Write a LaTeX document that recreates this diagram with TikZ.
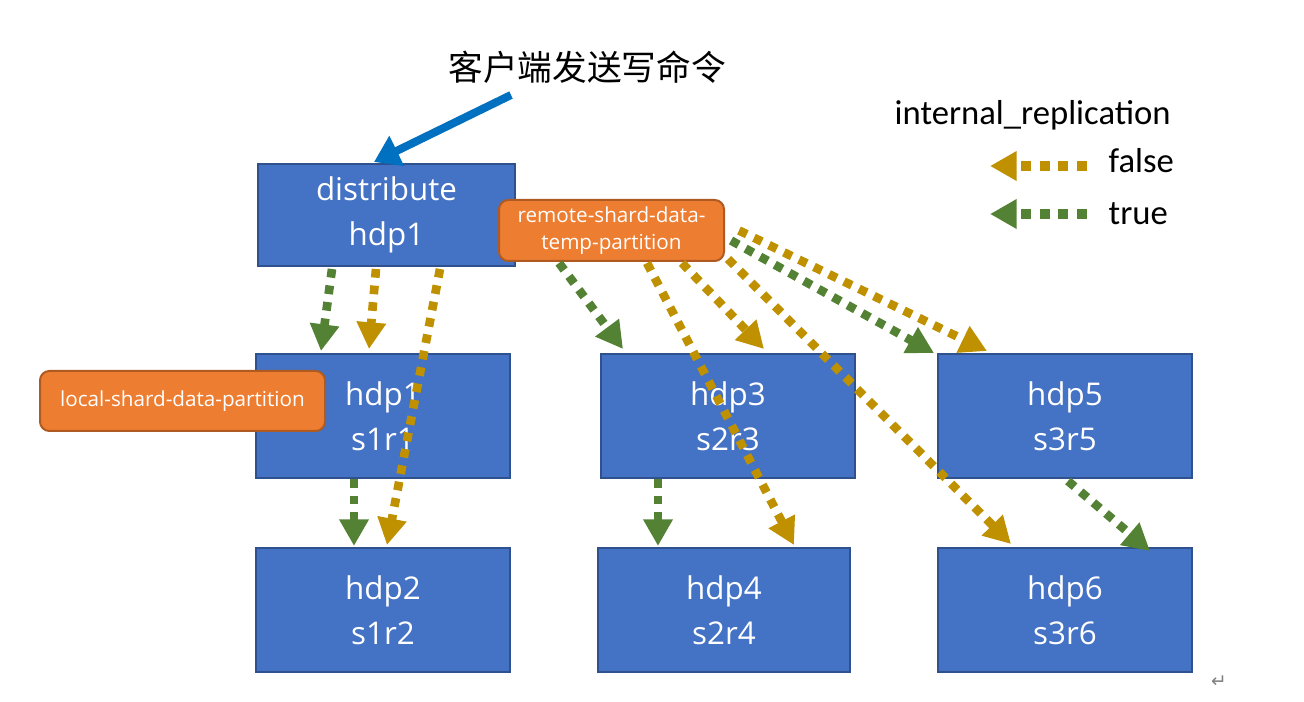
\documentclass[tikz,border=0pt]{standalone}
\usepackage{fontspec}
\setmainfont{Open Sans}
\newfontfamily\cjkf{Noto Sans CJK SC}
\newfontfamily\legf{Carlito}
\newfontfamily\symf{DejaVu Sans}
\usetikzlibrary{arrows.meta,calc}
\definecolor{boxblue}{HTML}{4472C4}
\definecolor{boxedge}{HTML}{2F528F}
\definecolor{orangefill}{HTML}{ED7D31}
\definecolor{orangeedge}{HTML}{AE5A21}
\definecolor{goldc}{HTML}{BF9000}
\definecolor{greenc}{HTML}{548235}
\definecolor{arrowblue}{HTML}{0070C0}
\tikzset{
  hostbox/.style={draw=boxedge, line width=1.5pt, fill=boxblue, text=white, align=center,
    minimum width=190.5pt, minimum height=93pt, inner sep=0pt,
    font=\fontsize{23.5}{34}\selectfont},
  tagbox/.style={draw=orangeedge, line width=1.5pt, fill=orangefill, text=white, align=center,
    rounded corners=7pt, inner sep=0pt, font=\fontsize{15.5}{20}\selectfont},
  dotline/.style={line width=6.5pt, dash pattern=on 6.5pt off 6pt,
    -{Triangle[width=21pt,length=20pt]}},
  goldline/.style={dotline, draw=goldc, color=goldc},
  greenline/.style={dotline, draw=greenc, color=greenc},
}
\begin{document}
\begin{tikzpicture}[x=0.75pt,y=-0.75pt]
\useasboundingbox (0,0) rectangle (1304,702);

% host boxes
\node[hostbox, minimum width=192.75pt, minimum height=76.5pt] (dist) at (386.5,215) {distribute\\hdp1};
\node[hostbox] (n1) at (383,416) {hdp1\\s1r1};
\node[hostbox] (n3) at (728,416) {hdp3\\s2r3};
\node[hostbox] (n5) at (1065,416) {hdp5\\s3r5};
\node[hostbox] (n2) at (383,610) {hdp2\\s1r2};
\node[hostbox, minimum width=189pt] (n4) at (724,610) {hdp4\\s2r4};
\node[hostbox] (n6) at (1065,610) {hdp6\\s3r6};

% orange tags
\node[tagbox, minimum width=168.75pt, minimum height=45.75pt] (remote) at (611.5,230.5) {remote-shard-data-\\temp-partition};
\node[tagbox, minimum width=213.75pt, minimum height=45pt] (local) at (182.5,401) {local-shard-data-partition};

% title and client arrow
\node[font=\cjkf\fontsize{26}{30}\selectfont] (title) at (587,67) {客户端发送写命令};
\coordinate (client) at (511,95);
\draw[arrowblue, line width=6pt, -{Triangle[width=24pt,length=19pt]}] (client) -- ($(dist.north west)+(117,-1)$);

% connectors from distribute
\draw[greenline] ($(dist.south west)+(75,2)$) -- ($(n1.north west)+(66,-2)$);
\draw[goldline] ($(dist.south west)+(119,2)$) -- ($(n1.north west)+(114,-4)$);
\draw[goldline] ($(dist.south west)+(183,2)$) -- ($(n2.north west)+(132,-2)$);
\draw[greenline] ($(n1.south west)+(99,0)$) -- ($(n2.north west)+(99,-1)$);

% connectors from remote tag
\draw[greenline] ($(remote.south west)+(61,1)$) -- ($(n3.north west)+(23,-4)$);
\draw[goldline] ($(remote.south west)+(149,1)$) -- ($(n4.north west)+(197,-2)$);
\draw[goldline] ($(remote.south west)+(184,1)$) -- ($(n3.north west)+(164,-4)$);
\draw[goldline] ($(remote.south east)+(3,-3)$) -- ($(n6.north west)+(74,-3)$);
\draw[greenline] ($(remote.east)+(6,10)$) -- ($(n5.north west)+(-3,0)$);
\draw[goldline] ($(remote.east)+(14,0)$) -- ($(n5.north west)+(50,-2)$);
\draw[greenline] ($(n3.south west)+(58,0)$) -- ($(n4.north west)+(61,-1)$);
\draw[greenline] ($(n5.south)+(3,2)$) -- ($(n6.north west)+(213,4)$);

% legend
\node[font=\legf\fontsize{26}{30}\selectfont, anchor=west] (legtitle) at (890,115) {internal\_replication};
\node[font=\legf\fontsize{26}{30}\selectfont, anchor=west] (legfalse) at (1104,161) {false};
\node[font=\legf\fontsize{26}{30}\selectfont, anchor=west] (legtrue) at (1104,214) {true};
\coordinate (fs) at (1087,166);
\coordinate (fe) at (990,166);
\coordinate (ts) at (1087,214);
\coordinate (te) at (990,214);
\draw[goldline, line width=7.5pt, dash pattern=on 7.5pt off 6.5pt] (fs) -- (fe);
\draw[greenline, line width=7.5pt, dash pattern=on 7.5pt off 6.5pt] (ts) -- (te);

% paragraph mark
\node[font=\symf\fontsize{14}{16}\selectfont, text=gray] (para) at (1219,682) {↵};
\end{tikzpicture}
\end{document}
